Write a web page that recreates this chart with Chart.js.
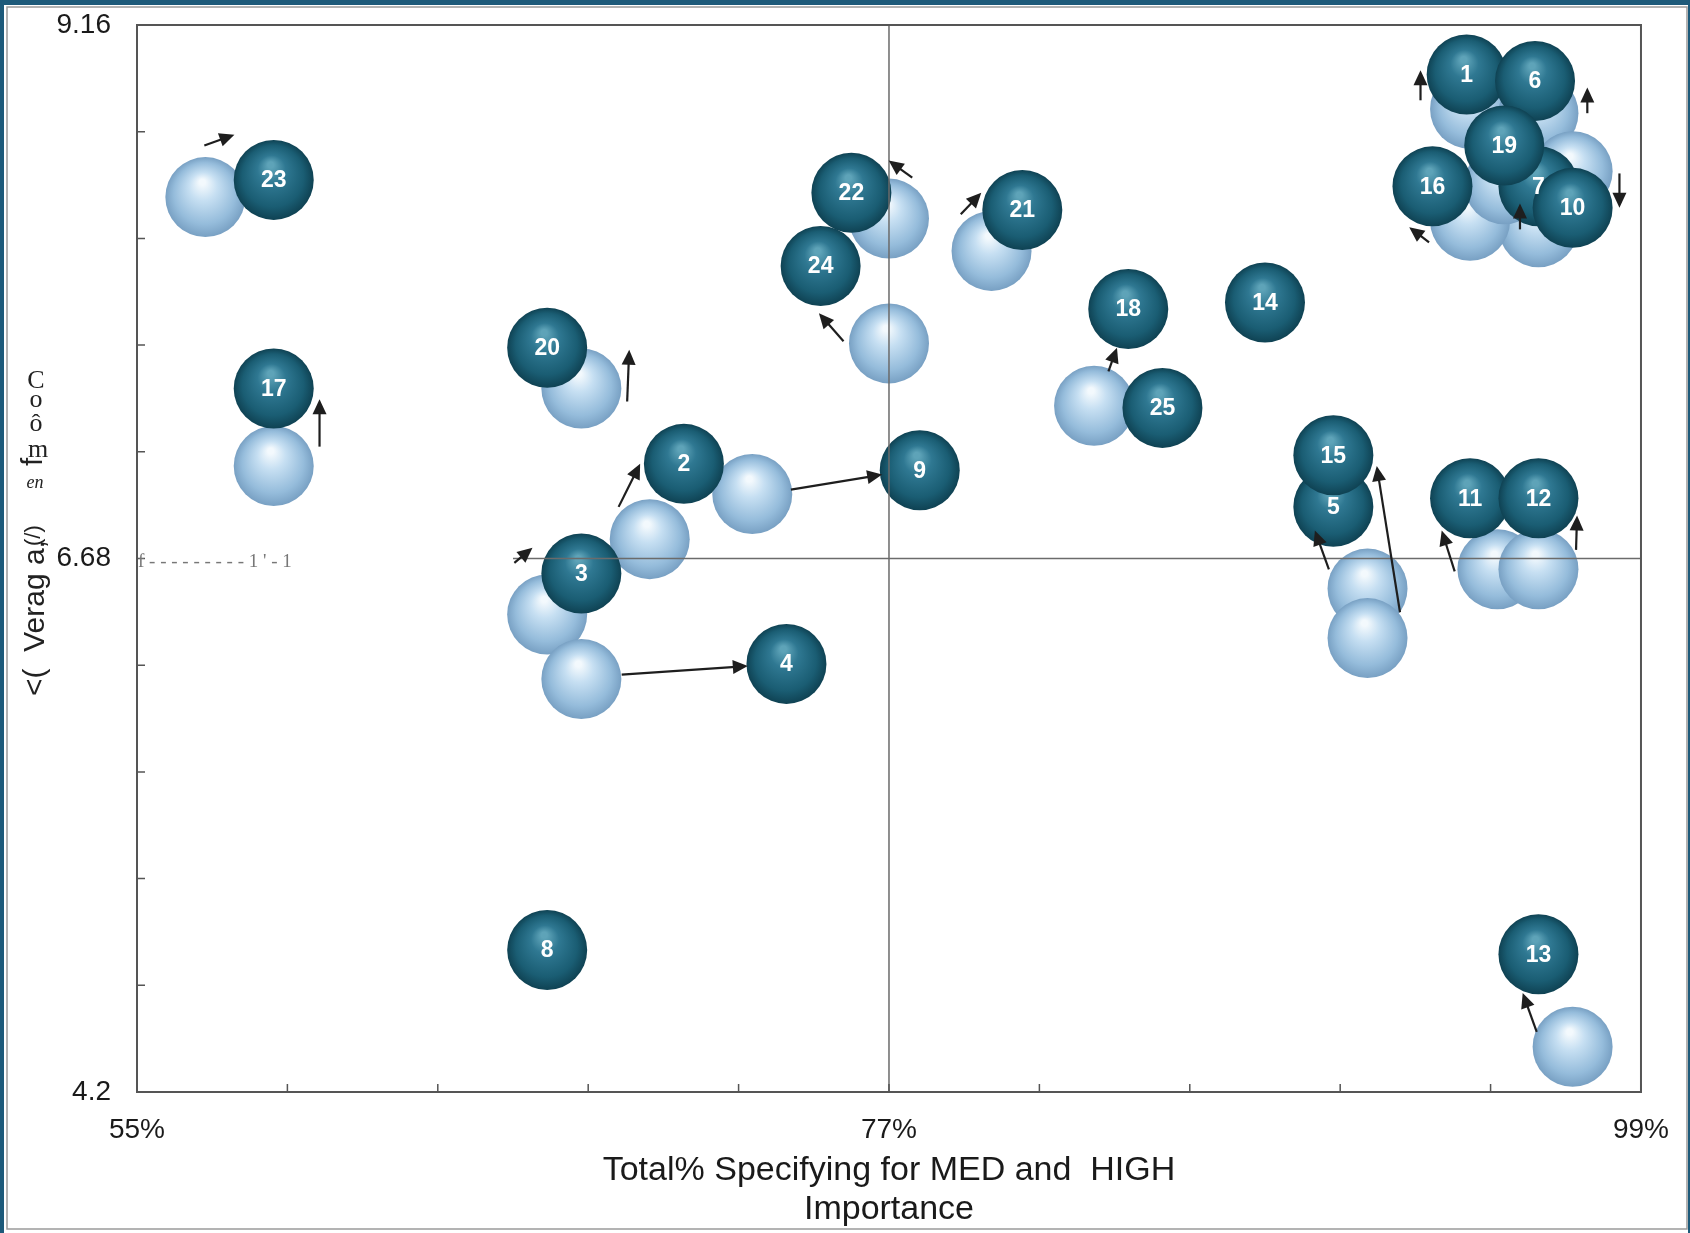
<!DOCTYPE html>
<html>
<head>
<meta charset="utf-8">
<script src="https://cdn.jsdelivr.net/npm/chart.js@4.4.0/dist/chart.umd.min.js"></script>
<style>
  html, body { margin: 0; padding: 0; background: #fff; }
</style>
</head>
<body>
<canvas id="bubbleChart" width="1690" height="1233"></canvas>
<script>
// item numbers
const ids = [1, 2, 3, 4, 5, 6, 7, 8, 9, 10, 11, 12, 13, 14, 15, 16, 17, 18, 19, 20, 21, 22, 23, 24, 25];
// current position (dark balls)
const curX = [93.9, 71.0, 68.0, 74.0, 90.0, 95.9, 96.0, 67.0, 77.9, 97.0, 94.0, 96.0, 96.0, 88.0, 90.0, 92.9, 59.0, 84.0, 95.0, 67.0, 80.9, 75.9, 59.0, 75.0, 85.0];
const curY = [8.93, 7.12, 6.61, 6.19, 6.92, 8.90, 8.41, 4.86, 7.09, 8.31, 6.96, 6.96, 4.84, 7.87, 7.16, 8.41, 7.47, 7.84, 8.60, 7.66, 8.30, 8.38, 8.44, 8.04, 7.38];
// previous position (light balls), null = not shown
const prevX = [94.0, 70.0, 67.0, 68.0, 91.0, 96.0, 96.0, null, 73.0, 97.0, 94.8, 96.0, 97.0, null, 91.0, 94.0, 59.0, 83.0, 95.0, 68.0, 80.0, 77.0, 57.0, 77.0, null];
const prevY = [8.77, 6.77, 6.42, 6.12, 6.54, 8.75, 8.22, null, 6.98, 8.48, 6.63, 6.63, 4.41, null, 6.31, 8.25, 7.11, 7.39, 8.42, 7.47, 8.11, 8.26, 8.36, 7.68, null];

// movement arrows [fromX, fromY, toX, toY]
const arrowSegs = [
  [92.55, 8.81, 92.55, 8.95],   // 1
  [69.09, 6.92, 69.72, 7.12],   // 2
  [66.04, 6.66, 66.57, 6.73],   // 3
  [69.18, 6.14, 72.87, 6.18],   // 4
  [89.87, 6.63, 89.46, 6.81],   // 5
  [97.43, 8.75, 97.43, 8.87],   // 6
  [95.46, 8.21, 95.46, 8.33],   // 7
  [74.13, 7.00, 76.80, 7.07],   // 9
  [98.37, 8.47, 98.37, 8.31],   // 10
  [93.55, 6.62, 93.17, 6.81],   // 11
  [97.10, 6.72, 97.13, 6.88],   // 12
  [95.95, 4.48, 95.54, 4.66],   // 13
  [91.95, 6.43, 91.27, 7.11],   // 15
  [92.80, 8.15, 92.22, 8.22],   // 16
  [60.34, 7.20, 60.34, 7.42],   // 17
  [83.42, 7.55, 83.67, 7.66],   // 18
  [69.34, 7.41, 69.40, 7.65],   // 20
  [79.10, 8.28, 79.70, 8.38],   // 21
  [77.68, 8.45, 76.99, 8.53],   // 22
  [56.97, 8.60, 57.85, 8.65],   // 23
  [75.67, 7.69, 74.95, 7.82]    // 24
];

// axes
const xMin = 55, xMax = 99, xStep = 4.4;
const yMin = 4.2, yMax = 9.16, yStep = 0.496;
const xTickLabels = [55, 77, 99];
const yTickLabels = ['4.2', '6.68', '9.16'];
const midX = 77, midY = 6.68, midLineFromX = 66;

const FONT = '"Liberation Sans", Arial, sans-serif';
const SERIF = '"Liberation Serif", "Times New Roman", serif';
const BALL_R = 40;

const darkShade = [[0, '#5ea3b8'], [0.3, '#2f7892'], [0.75, '#1a5d73'], [1, '#0f4253']];
const lightShade = [[0, '#f3f9fd'], [0.3, '#c6dff2'], [0.75, '#95bcdb'], [1, '#78a0c3']];

function sphere(ctx, stops) {
  const chart = ctx.chart;
  const p = ctx.raw;
  if (!p || !chart.chartArea) return stops[2][1];
  const x = chart.scales.x.getPixelForValue(p.x);
  const y = chart.scales.y.getPixelForValue(p.y);
  const g = chart.ctx.createRadialGradient(x - 3, y - 15, 3, x, y, BALL_R);
  stops.forEach(s => g.addColorStop(s[0], s[1]));
  return g;
}

function drawArrow(c, x1, y1, x2, y2) {
  const a = Math.atan2(y2 - y1, x2 - x1);
  const L = 15, W = 7;
  c.beginPath();
  c.moveTo(x1, y1);
  c.lineTo(x2 - L * 0.8 * Math.cos(a), y2 - L * 0.8 * Math.sin(a));
  c.stroke();
  c.beginPath();
  c.moveTo(x2, y2);
  c.lineTo(x2 - L * Math.cos(a) + W * Math.sin(a), y2 - L * Math.sin(a) - W * Math.cos(a));
  c.lineTo(x2 - L * Math.cos(a) - W * Math.sin(a), y2 - L * Math.sin(a) + W * Math.cos(a));
  c.closePath();
  c.fill();
}

const decorPlugin = {
  id: 'decor',
  beforeDraw(chart) {
    const c = chart.ctx;
    c.save();
    c.fillStyle = '#ffffff';
    c.fillRect(0, 0, chart.width, chart.height);
    // scanned frame edges
    c.fillStyle = '#1d5a7a';
    c.fillRect(0, 0, chart.width, 5);
    c.fillRect(0, 0, 4, chart.height);
    c.fillRect(chart.width - 2, 0, 2, chart.height);
    c.strokeStyle = '#9a9a9a';
    c.lineWidth = 1.5;
    c.strokeRect(7, 7, 1680, 1222);
    c.restore();
  },
  afterDatasetsDraw(chart) {
    const c = chart.ctx;
    const xs = chart.scales.x, ys = chart.scales.y;
    const a = chart.chartArea;
    c.save();
    // quadrant lines
    c.strokeStyle = '#6b6b6b';
    c.lineWidth = 1.5;
    c.beginPath();
    c.moveTo(xs.getPixelForValue(midX), a.top);
    c.lineTo(xs.getPixelForValue(midX), a.bottom);
    c.moveTo(xs.getPixelForValue(midLineFromX), ys.getPixelForValue(midY));
    c.lineTo(a.right, ys.getPixelForValue(midY));
    c.stroke();
    // plot frame
    c.strokeStyle = '#555';
    c.lineWidth = 2;
    c.strokeRect(a.left, a.top, a.right - a.left, a.bottom - a.top);
    // inward tick marks
    c.lineWidth = 1.5;
    c.beginPath();
    ys.ticks.forEach(t => {
      const py = ys.getPixelForValue(t.value);
      c.moveTo(a.left, py); c.lineTo(a.left + 8, py);
    });
    xs.ticks.forEach(t => {
      const px = xs.getPixelForValue(t.value);
      c.moveTo(px, a.bottom); c.lineTo(px, a.bottom - 8);
    });
    c.stroke();
    // arrows
    c.strokeStyle = '#1e1e1e';
    c.fillStyle = '#1e1e1e';
    c.lineWidth = 2.2;
    arrowSegs.forEach(s => drawArrow(c, xs.getPixelForValue(s[0]), ys.getPixelForValue(s[1]),
      xs.getPixelForValue(s[2]), ys.getPixelForValue(s[3])));
    // numbers on the dark balls
    const meta = chart.getDatasetMeta(0);
    c.fillStyle = '#ffffff';
    c.font = 'bold 23px ' + FONT;
    c.textAlign = 'center';
    c.textBaseline = 'middle';
    meta.data.forEach((el, i) => c.fillText(String(ids[i]), el.x, el.y + 1));
    c.restore();
  },
  afterDraw(chart) {
    const c = chart.ctx;
    const a = chart.chartArea;
    const ys = chart.scales.y;
    c.save();
    // scanned remnant on the mid line
    c.fillStyle = '#777';
    c.font = '19px ' + SERIF;
    c.textAlign = 'left';
    c.textBaseline = 'middle';
    c.fillText("f - - - - - - - - - 1 ' - 1", a.left + 1, ys.getPixelForValue(midY) + 4);
    // y axis title (as scanned)
    c.fillStyle = '#222';
    c.translate(36, 696);
    c.rotate(-Math.PI / 2);
    c.font = '30px ' + FONT;
    c.textAlign = 'left';
    c.textBaseline = 'middle';
    c.fillText('<(  Verag a,', 0, 0);
    c.font = '22px ' + FONT;
    c.fillText('(/)', 150, -2);
    c.font = '30px ' + FONT;
    c.fillText('f', 230, -2);
    c.restore();
    c.save();
    c.fillStyle = '#222';
    c.font = '26px ' + SERIF;
    c.textAlign = 'center';
    c.textBaseline = 'middle';
    c.fillText('C', 36, 381);
    c.fillText('o', 36, 400);
    c.fillText('ô', 36, 424);
    c.fillText('m', 38, 450);
    c.font = 'italic 18px ' + SERIF;
    c.fillText('en', 35, 483);
    c.restore();
  }
};

new Chart(document.getElementById('bubbleChart').getContext('2d'), {
  type: 'scatter',
  data: {
    datasets: [
      {
        label: 'Current',
        data: ids.map((id, i) => ({ x: curX[i], y: curY[i] })),
        pointRadius: BALL_R,
        pointHoverRadius: BALL_R,
        borderWidth: 0,
        backgroundColor: ctx => sphere(ctx, darkShade)
      },
      {
        label: 'Previous',
        data: ids.map((id, i) => ({ x: prevX[i], y: prevY[i] })).filter(p => p.x !== null),
        pointRadius: BALL_R,
        pointHoverRadius: BALL_R,
        borderWidth: 0,
        backgroundColor: ctx => sphere(ctx, lightShade)
      }
    ]
  },
  options: {
    responsive: false,
    animation: false,
    events: [],
    layout: { autoPadding: false, padding: { left: 0, top: 25, right: 46, bottom: 0 } },
    plugins: {
      legend: { display: false },
      tooltip: { enabled: false }
    },
    scales: {
      x: {
        type: 'linear',
        min: xMin,
        max: xMax,
        grid: { display: false, drawTicks: false },
        border: { display: false },
        ticks: {
          stepSize: xStep,
          autoSkip: false,
          maxRotation: 0,
          padding: 21,
          color: '#1a1a1a',
          font: { family: FONT, size: 28 },
          callback: v => {
            const hit = xTickLabels.find(t => Math.abs(t - v) < 1e-6);
            return hit !== undefined ? hit + '%' : '';
          }
        },
        title: {
          display: true,
          text: ['Total% Specifying for MED and  HIGH', 'Importance'],
          color: '#1a1a1a',
          font: { family: FONT, size: 34, lineHeight: 1.15 },
          padding: { top: 0, bottom: 4 }
        },
        afterFit: s => { s.height = 141; }
      },
      y: {
        min: yMin,
        max: yMax,
        grid: { display: false, drawTicks: false },
        border: { display: false },
        ticks: {
          stepSize: yStep,
          autoSkip: false,
          padding: 26,
          color: '#1a1a1a',
          font: { family: FONT, size: 28 },
          callback: v => {
            const hit = yTickLabels.find(t => Math.abs(parseFloat(t) - v) < 1e-6);
            return hit !== undefined ? hit : '';
          }
        },
        afterFit: s => { s.width = 137; s.paddingTop = 0; s.paddingBottom = 0; }
      }
    }
  },
  plugins: [decorPlugin]
});
</script>
</body>
</html>
